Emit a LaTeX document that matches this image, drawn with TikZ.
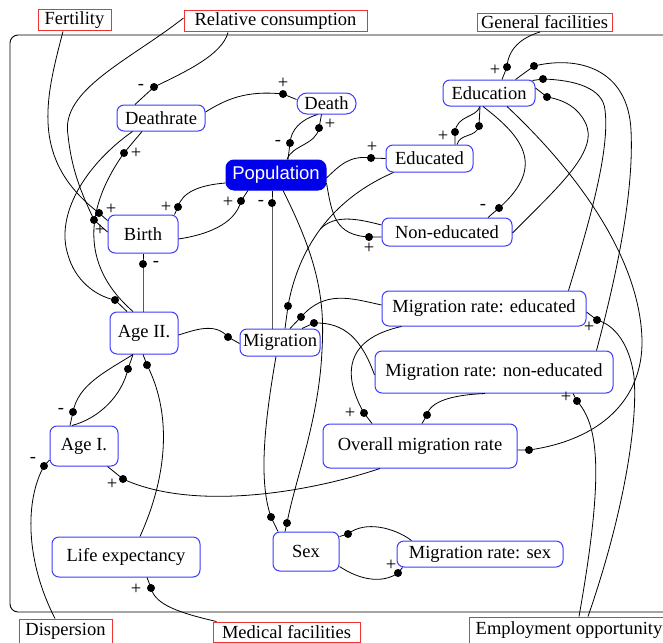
\documentclass[tikz,border=0pt]{standalone}
\usepackage{fontspec}
\setmainfont{Liberation Serif}
\newfontfamily\serfont{Liberation Serif}
\newfontfamily\popfont{Liberation Sans}
\usetikzlibrary{calc}
\definecolor{varblue}{RGB}{60,60,255}
\definecolor{popblue}{RGB}{0,0,235}
\definecolor{extred}{RGB}{240,50,50}
\def\lbl{\serfont\fontsize{18.5}{20}\selectfont}
\tikzset{
	var/.style={draw=varblue, line width=1pt, rounded corners=7pt, fill=white, inner sep=0pt, font=\lbl},
	ext/.style={draw=extred, line width=1pt, fill=white, inner sep=0pt, font=\lbl},
	sz/.style 2 args={minimum width=#1pt, minimum height=#2pt},
	link/.style={line width=0.8pt},
	dot/.style={circle, fill=black, inner sep=0pt, minimum size=8pt},
	sgn/.style={inner sep=0pt, font=\lbl},
}

\begin{document}
\begin{tikzpicture}[x=1pt, y=-1pt]
		%%%%% START %%%%%
		\useasboundingbox (0,0) rectangle (663,642);
		
		\draw[line width=0.9pt, rounded corners=8pt] (10,35) rectangle (700,612);
		
		% outside factors
		\node[ext, sz={73}{21}] (fert) at (74.5,20.5) {Fertility};
		\node[ext, sz={183}{21}] (relc) at (275.5,21.5) {Relative consumption};
		\node[ext, sz={135}{18}] (genf) at (544.5,22.5) {General facilities};
		\node[ext, sz={93}{24}] (disp) at (65.5,631) {Dispersion};
		\node[ext, sz={147}{20}] (medf) at (286.5,632) {Medical facilities};
		\node[ext, sz={200}{26}] (empl) at (569,630) {Employment opportunity};
		
		% model variables
		\node[var, sz={88}{26}] (drate) at (161,118) {Deathrate};
		\node[var, sz={59}{21}, rounded corners=10pt] (death) at (326.5,103.5) {Death};
		\node[var, sz={100}{30}, rounded corners=8pt, draw=popblue, fill=popblue, text=white, font=\lbl\popfont] (pop) at (276,175) {Population};
		\node[var, sz={70}{38}] (birth) at (143,234) {Birth};
		\node[var, sz={92}{26}] (educ) at (489,93) {Education};
		\node[var, sz={87}{27}] (edd) at (429.5,158.5) {Educated};
		\node[var, sz={130}{28}] (nedd) at (447,232) {Non-educated};
		\node[var, sz={68}{42}] (age2) at (144,333) {Age II.};
		\node[var, sz={80}{27}] (migr) at (280,342.5) {Migration};
		\node[var, sz={204}{35}] (mre) at (484,308.5) {Migration rate: educated};
		\node[var, sz={238}{42}] (mrne) at (494,372) {Migration rate: non-educated};
		\node[var, sz={194}{44}] (omr) at (420,446) {Overall migration rate};
		\node[var, sz={68}{40}] (age1) at (84,446) {Age I.};
		\node[var, sz={148}{40}] (lexp) at (126,557) {Life expectancy};
		\node[var, sz={66}{39}] (sex) at (306,551.5) {Sex};
		\node[var, sz={166}{26}] (mrs) at (480,554) {Migration rate: sex};
		
		% link heads and signs
		\node[dot] (d1) at (154,87) {};   \node[sgn] (s1) at (141,87) {-};
		\node[dot] (d2) at (283,94) {};   \node[sgn] (s2) at (283,83) {+};
		\node[dot] (d3) at (319,128) {};  \node[sgn] (s3) at (330,124) {+};
		\node[dot] (d4) at (290,143) {};  \node[sgn] (s4) at (278,143) {-};
		\node[dot] (d5) at (178,207) {};  \node[sgn] (s5) at (166,207) {+};
		\node[dot] (d6) at (241,201) {};  \node[sgn] (s6) at (228,202) {+};
		\node[dot] (d7) at (272,203) {};  \node[sgn] (s7) at (261,203) {-};
		\node[dot] (d8) at (287,523) {};
		\node[dot] (d9) at (271,517) {};
		\node[dot] (d10) at (288,306) {};
		\node[dot] (d11) at (301,317) {};
		\node[dot] (d12) at (314,323) {};
		\node[dot] (d13) at (371,158) {}; \node[sgn] (s13) at (372,147) {+};
		\node[dot] (d14) at (369,237) {}; \node[sgn] (s14) at (369,248) {+};
		\node[dot] (d15) at (455,132) {}; \node[sgn] (s15) at (443,136) {+};
		\node[dot] (d16) at (479,126) {};
		\node[dot] (d17) at (499,208) {}; \node[sgn] (s17) at (483,207) {-};
		\node[dot] (d18) at (507,67) {};  \node[sgn] (s18) at (495,70) {+};
		\node[dot] (d19) at (534,66) {};
		\node[dot] (d20) at (543,79) {};
		\node[dot] (d21) at (547,97) {};
		\node[dot] (d22) at (529,450) {};
		\node[dot] (d23) at (597,320) {}; \node[sgn] (s23) at (589,327) {+};
		\node[dot] (d24) at (577,401) {}; \node[sgn] (s24) at (566,397) {+};
		\node[dot] (d25) at (364,413) {}; \node[sgn] (s25) at (350,413) {+};
		\node[dot] (d26) at (427,415) {};
		\node[dot] (d27) at (123,479) {}; \node[sgn] (s27) at (112,484) {+};
		\node[dot] (d28) at (73,412) {};  \node[sgn] (s28) at (61,411) {-};
		\node[dot] (d29) at (128,369) {};
		\node[dot] (d30) at (147,365) {};
		\node[dot] (d31) at (228,337) {};
		\node[dot] (d32) at (143,264) {}; \node[sgn] (s32) at (156,264) {-};
		\node[dot] (d33) at (44,466) {};  \node[sgn] (s33) at (33,460) {-};
		\node[dot] (d34) at (151,588) {}; \node[sgn] (s34) at (136,589) {+};
		\node[dot] (d35) at (348,534) {};
		\node[dot] (d36) at (398,573) {}; \node[sgn] (s36) at (391,565) {+};
		\node[dot] (d37) at (99,213) {};  \node[sgn] (s37) at (111,209) {+};
		\node[dot] (d38) at (94,220) {};  \node[sgn] (s38) at (100,230) {+};
		\node[dot] (d39) at (115,300) {};
		\node[dot] (d40) at (124,153) {}; \node[sgn] (s40) at (136,153) {+};
		\coordinate (j1) at (320.7,228.5);
		
		% links
		\draw[link] ($(relc.south)+(-47.5,0)$) .. controls (222,55) and (185,72) .. (d1.center) -- ($(drate.north)+(-26,0)$);
		\draw[link] ($(drate.east)+(0,-6)$) .. controls (225,100) and (245,90) .. (d2.center) -- ($(death.west)+(0,-4)$);
		\draw[link] ($(pop.north)+(11,0)$) .. controls (292,145) and (316,145) .. (d3.center) -- ($(death.south)+(-5,0)$);
		\draw[link] ($(death.south)+(-9,0)$) .. controls (300,120) and (291,130) .. (d4.center) -- ($(pop.north)+(12,0)$);
		\draw[link] ($(pop.west)+(0,8)$) .. controls (200,185) and (182,192) .. (d5.center) -- ($(birth.north east)+(-4,0)$);
		\draw[link] ($(birth.east)+(0,5)$) .. controls (205,235) and (235,225) .. (d6.center) -- ($(pop.south)+(-28,0)$);
		\draw[link] ($(migr.north)+(-8,0)$) -- (d7.center) -- ($(pop.south)+(-4,0)$);
		\draw[link] ($(pop.south)+(7,0)$) .. controls (318,260) and (325,300) .. (322,350) .. controls (319,420) and (295,480) .. (d8.center) -- ($(sex.north)+(-21,0)$);
		\draw[link] ($(migr.south)+(-4,0)$) .. controls (265,420) and (258,480) .. (d9.center) -- ($(sex.north)+(-28,0)$);
		\draw[link] ($(edd.south)+(-36,0)$) .. controls (330,200) and (298,250) .. (d10.center) -- ($(migr.north)+(5,0)$);
		\draw[link] ($(nedd.west)+(0,-7)$) .. controls (355,218) and (335,215) .. (j1);
		\draw[link] ($(mre.west)+(0,-3.5)$) .. controls (350,298) and (325,290) .. (d11.center) -- ($(migr.north)+(10,0)$);
		\draw[link] ($(mrne.west)+(0,3)$) .. controls (362,340) and (345,322) .. (d12.center) -- ($(migr.north)+(22,0)$);
		\draw[link] ($(pop.east)+(0,3)$) .. controls (340,165) and (350,155) .. (d13.center) -- (edd.west);
		\draw[link] ($(pop.east)+(0,8)$) .. controls (332,215) and (335,235) .. (d14.center) -- ($(nedd.west)+(0,5)$);
		\draw[link] ($(educ.south)+(-9,0)$) .. controls (476,118) and (457,115) .. (d15.center) -- ($(edd.north)+(25.5,0)$);
		\draw[link] ($(edd.north)+(27.5,0)$) .. controls (460,133) and (476,138) .. (d16.center) -- ($(educ.south)+(-9,0)$);
		\draw[link] ($(educ.south)+(-6,0)$) .. controls (520,135) and (548,165) .. (d17.center) -- ($(nedd.north)+(41,0)$);
		\draw[link] ($(genf.south)+(-4.5,0)$) .. controls (520,38) and (508,50) .. (d18.center) -- ($(educ.north)+(13,0)$);
		\draw[link] ($(mrne.north east)+(-17,0)$) .. controls (618,270) and (634,190) .. (631,130) .. controls (628,70) and (580,55) .. (d19.center) -- ($(educ.north east)+(-20,0)$);
		\draw[link] ($(mre.north east)+(-18,0)$) .. controls (590,220) and (610,150) .. (605,110) .. controls (603,88) and (575,80) .. (d20.center) -- ($(educ.north east)+(-3,1)$);
		\draw[link] ($(nedd.east)+(0,1)$) .. controls (560,185) and (600,150) .. (585,122) .. controls (578,108) and (565,100) .. (d21.center) -- ($(educ.east)+(0,-5)$);
		\draw[link] ($(educ.south)+(18,0)$) .. controls (580,175) and (640,260) .. (642,340) .. controls (643,400) and (600,440) .. (d22.center) -- ($(omr.east)+(0,4)$);
		\draw[link] ($(empl.north)+(19,0)$) .. controls (625,510) and (638,420) .. (634,377) .. controls (630,345) and (615,325) .. (d23.center) -- ($(mre.east)+(0,3.5)$);
		\draw[link] ($(empl.north)+(10,0)$) .. controls (605,470) and (598,425) .. (d24.center) -- ($(mrne.south)+(79,0)$);
		\draw[link] ($(mre.south west)+(20,0)$) .. controls (340,340) and (345,380) .. (d25.center) -- ($(omr.north)+(-48,0)$);
		\draw[link] ($(mrne.south)+(-9,0)$) .. controls (450,395) and (430,402) .. (d26.center) -- ($(omr.north)+(2,0)$);
		\draw[link] ($(omr.south)+(-40,0)$) .. controls (300,495) and (190,510) .. (d27.center) -- ($(age1.south east)+(-11,0)$);
		\draw[link] ($(age2.south)+(-11,0)$) .. controls (105,372) and (78,385) .. (d28.center) -- ($(age1.north)+(-14,0)$);
		\draw[link] ($(age1.north)+(-12,0)$) .. controls (100,418) and (122,395) .. (d29.center) -- ($(age2.south)+(-11,0)$);
		\draw[link] ($(lexp.north)+(14,0)$) .. controls (170,470) and (170,410) .. (d30.center) -- ($(age2.south)+(-1,0)$);
		\draw[link] ($(age2.east)+(0,2)$) .. controls (195,330) and (215,322) .. (d31.center) -- ($(migr.west)+(0,1)$);
		\draw[link] ($(age2.north)+(-1,0)$) -- (d32.center) -- (birth.south);
		\draw[link] ($(disp.north)+(-10.5,0)$) .. controls (25,560) and (25,500) .. (d33.center) -- ($(age1.west)+(0,14)$);
		\draw[link] ($(medf.north west)+(4,0)$) .. controls (180,613) and (155,605) .. (d34.center) -- ($(lexp.south)+(21,0)$);
		\draw[link] ($(mrs.north west)+(15,0)$) .. controls (395,528) and (365,520) .. (d35.center) -- ($(sex.east)+(0,-15)$);
		\draw[link] ($(sex.east)+(0,15)$) .. controls (360,580) and (382,584) .. (d36.center) -- ($(mrs.south west)+(6,0)$);
		\draw[link] ($(fert.south)+(-11.5,0)$) .. controls (45,100) and (30,160) .. (d37.center) -- ($(birth.north west)+(0,6)$);
		\draw[link] ($(relc.west)+(0,-3.5)$) .. controls (130,60) and (60,90) .. (68,135) .. controls (72,175) and (85,200) .. (d38.center) -- ($(birth.west)+(0,-2)$);
		\draw[link] ($(drate.south west)+(16,0)$) .. controls (85,165) and (55,215) .. (68,255) .. controls (75,280) and (95,296) .. (d39.center) -- ($(age2.north)+(-17,0)$);
		\draw[link] ($(age2.north)+(-11,0)$) .. controls (85,270) and (80,215) .. (d40.center) -- ($(drate.south)+(-19,0)$);
		
		%%%%% END %%%%%
\end{tikzpicture}
\end{document}
